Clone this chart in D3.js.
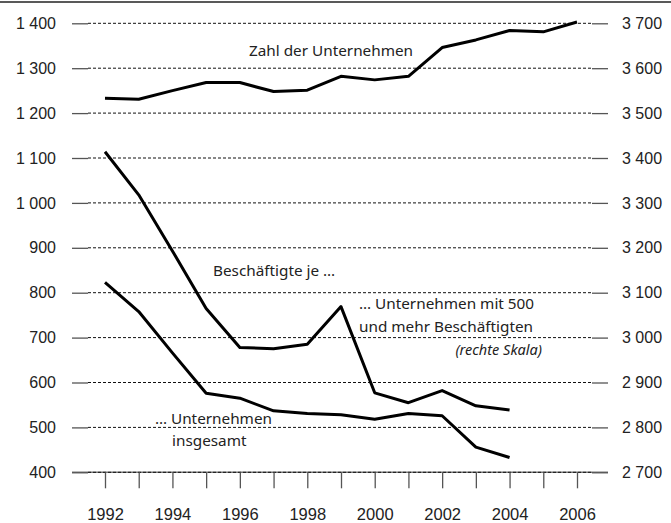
<!DOCTYPE html>
<html>
<head>
<meta charset="utf-8">
<script src="https://cdn.jsdelivr.net/npm/d3@7"></script>
<style>
  body { margin: 0; background: #fff; }
  svg { display: block; font-family: "Noto Sans", sans-serif; }
  .axis text { font-size: 16px; fill: #222; }
  .note { font-size: 15.3px; fill: #222; }
</style>
</head>
<body>
<svg id="chart" width="671" height="523"></svg>
<script>
// Data
const years = [1992, 1993, 1994, 1995, 1996, 1997, 1998, 1999, 2000, 2001, 2002, 2003, 2004, 2005, 2006];
// Zahl der Unternehmen (linke Skala)
const zahlUnternehmen = [1233, 1231, 1250, 1268, 1268, 1248, 1251, 1282, 1274, 1282, 1346, 1363, 1384, 1381, 1403];
// Beschäftigte je Unternehmen mit 500 und mehr Beschäftigten (rechte Skala), 1992-2004
const je500 = [3414, 3318, 3193, 3065, 2978, 2975, 2985, 3069, 2877, 2855, 2882, 2848, 2839];
// Beschäftigte je Unternehmen insgesamt (linke Skala), 1992-2004
const jeInsgesamt = [823, 758, 666, 576, 565, 537, 531, 528, 518, 531, 526, 456, 433];

const leftTicks = [400, 500, 600, 700, 800, 900, 1000, 1100, 1200, 1300, 1400];
const rightTicks = [2700, 2800, 2900, 3000, 3100, 3200, 3300, 3400, 3500, 3600, 3700];
const yearLabels = [1992, 1994, 1996, 1998, 2000, 2002, 2004, 2006];

let chart = d3.select("#chart");
let fmt = d => d3.format(",")(d).replace(",", " ");

let x = d3.scaleLinear().domain([1992, 2006]).range([105, 577]);
let yL = d3.scaleLinear().domain([400, 1400]).range([472.3, 23.3]);
let yR = d3.scaleLinear().domain([2700, 3700]).range([472.3, 23.3]);

// top rule
chart.append("line")
    .attr("x1", 0).attr("x2", 671).attr("y1", 2).attr("y2", 2)
    .attr("stroke", "#222").attr("stroke-width", 1.5);

// baseline
chart.append("line")
    .attr("x1", 72).attr("x2", 608).attr("y1", yL(400)).attr("y2", yL(400))
    .attr("stroke", "#777").attr("stroke-width", 1.5);

// dashed grid
chart.append("g")
    .selectAll("line")
    .data(leftTicks)
    .enter()
    .append("line")
      .attr("x1", 88).attr("x2", 592)
      .attr("y1", d => yL(d)).attr("y2", d => yL(d))
      .attr("stroke", "#111")
      .attr("stroke-width", 1)
      .attr("stroke-dasharray", "3,2");

// left axis
let yAxisL = d3.axisLeft(yL).tickValues(leftTicks).tickSize(16).tickPadding(16).tickFormat(fmt);
chart.append("g")
    .attr("class", "axis")
    .attr("transform", "translate(88,0)")
    .call(yAxisL)
    .call(g => g.select(".domain").remove())
    .call(g => g.selectAll(".tick line").attr("stroke", "#555").attr("stroke-width", 1.3));

// right axis
let yAxisR = d3.axisRight(yR).tickValues(rightTicks).tickSize(16).tickPadding(14).tickFormat(fmt);
chart.append("g")
    .attr("class", "axis")
    .attr("transform", "translate(592,0)")
    .call(yAxisR)
    .call(g => g.select(".domain").remove())
    .call(g => g.selectAll(".tick line").attr("stroke", "#555").attr("stroke-width", 1.3));

// x axis
let xAxis = d3.axisBottom(x).tickValues(years).tickSize(16).tickPadding(20)
    .tickFormat(d => yearLabels.includes(d) ? d : "");
chart.append("g")
    .attr("class", "axis")
    .attr("transform", "translate(0," + yL(400) + ")")
    .call(xAxis)
    .call(g => g.select(".domain").remove())
    .call(g => g.selectAll(".tick line").attr("stroke", "#555").attr("stroke-width", 1.3))
    .call(g => g.selectAll(".tick text").style("font-size", "16.5px"));

// lines
let lineL = d3.line().x((d, i) => x(years[i])).y(d => yL(d));
let lineR = d3.line().x((d, i) => x(years[i])).y(d => yR(d));

[[zahlUnternehmen, lineL], [je500, lineR], [jeInsgesamt, lineL]].forEach(function(s) {
    chart.append("path")
        .datum(s[0])
        .attr("d", s[1])
        .attr("fill", "none")
        .attr("stroke", "#000")
        .attr("stroke-width", 3)
        .attr("stroke-linejoin", "round");
});

// annotations
let notes = [
    {t: "Zahl der Unternehmen", x: 249, y: 56, a: "start"},
    {t: "Beschäftigte je …", x: 213, y: 276, a: "start"},
    {t: "… Unternehmen mit 500", x: 359, y: 309, a: "start"},
    {t: "und mehr Beschäftigten", x: 359, y: 332, a: "start"},
    {t: "(rechte Skala)", x: 542, y: 355, a: "end", i: true},
    {t: "… Unternehmen", x: 272, y: 424, a: "end"},
    {t: "insgesamt", x: 172, y: 446, a: "start"}
];
chart.selectAll("text.note")
    .data(notes)
    .enter()
    .append("text")
      .attr("class", "note")
      .attr("x", d => d.x)
      .attr("y", d => d.y)
      .attr("text-anchor", d => d.a)
      .style("font-style", d => d.i ? "italic" : "normal")
      .style("font-size", d => d.i ? "14.5px" : null)
      .text(d => d.t);
</script>
</body>
</html>
